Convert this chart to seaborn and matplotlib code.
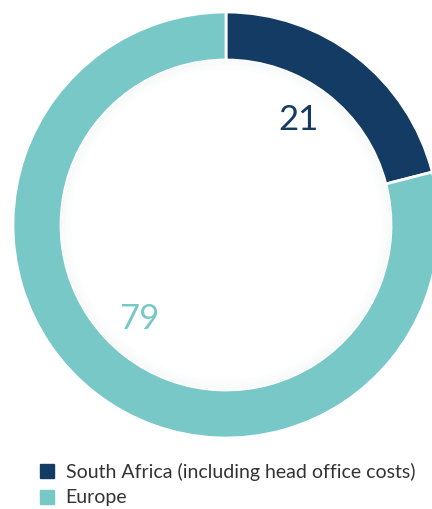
import matplotlib
matplotlib.use("Agg")
import matplotlib.pyplot as plt
from matplotlib.patches import Wedge
from matplotlib.lines import Line2D
import numpy as np
import seaborn as sns

categories = ["South Africa (including head office costs)", "Europe"]
values = [21, 79]
labels = ["21", "79"]
colors = ["#143B63", "#78C8C8"]

sns.set_theme(style="white")
plt.rcParams["font.family"] = ["Lato", "DejaVu Sans"]

W, H = 432, 509
fig = plt.figure(figsize=(W / 100, H / 100), dpi=100)
ax = fig.add_axes([0, 0, 1, 1])

cx, cy = 226, H - 225
R = 213
ring = 48

wedges, _ = ax.pie(values, colors=colors, startangle=90, counterclock=False,
                   center=(cx, cy), radius=R, frame=True,
                   wedgeprops=dict(width=ring, edgecolor="white", linewidth=2))
ax.set_xlim(0, W)
ax.set_ylim(0, H)
ax.set_aspect("auto")
ax.axis("off")

# subtle inner halo
rin = R - ring
for i, a in enumerate([0.35, 0.25, 0.18, 0.12, 0.07]):
    ax.add_patch(Wedge((cx, cy), rin - 2 * i, 0, 360, width=2,
                       facecolor="#e9eff1", edgecolor="none", alpha=a, zorder=1))

for w, lab, col in zip(wedges, labels, colors):
    ang = np.deg2rad((w.theta1 + w.theta2) / 2)
    r = 0.6 * R
    ang_off = np.deg2rad(3 if lab == "21" else -5)
    x = cx + r * np.cos(ang + ang_off)
    y = cy + r * np.sin(ang + ang_off)
    ax.text(x, y, lab, color=col, fontsize=25, fontweight="normal",
            ha="center", va="center", zorder=5)

handles = [Line2D([0], [0], marker="s", linestyle="none", markersize=10.5,
                  markerfacecolor=c, markeredgecolor=c) for c in colors]
fig.legend(handles, categories, loc="upper left",
           bbox_to_anchor=(20 / W, 1 - 445 / H), frameon=False,
           fontsize=14, labelcolor="#333333", handletextpad=0.45,
           labelspacing=0.45, handlelength=1.0)

fig.savefig("out.png", dpi=100)
